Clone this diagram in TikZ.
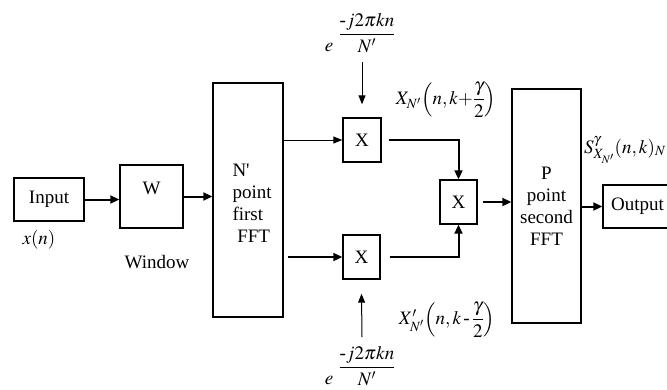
\documentclass[tikz,border=0pt]{standalone}
\usepackage{amsmath}
\usepackage{mathptmx}
\usepackage{fontspec}
\setmainfont{Liberation Serif}
\usetikzlibrary{arrows.meta}
\tikzset{
  blk/.style={draw, line width=1.4pt, inner sep=0pt},
  txt/.style={font=\fontsize{19}{22}\selectfont, inner sep=0pt},
  thk/.style={line width=2pt, -{Triangle[length=9pt,width=8pt]}},
  thn/.style={line width=1pt, -{Triangle[length=9pt,width=7pt]}},
}
\begin{document}
\begin{tikzpicture}[x=1pt,y=-1pt]
\useasboundingbox (0,0) rectangle (667,389);
\begin{scope}[every node/.append style={font=\fontsize{19}{22}\selectfont}]
% boxes
\node[blk, minimum width=70pt, minimum height=43pt] (in) at (49,199.5) {Input};
\node[blk, minimum width=63pt, minimum height=63pt,
      label={[yshift=8pt, inner sep=0pt]center:W}] (w) at (151.5,196.5) {};
\node[blk, minimum width=70pt, minimum height=234pt,
      label={[anchor=west, xshift=20pt, yshift=-3pt, align=left, inner sep=0pt]west:{N\textquotesingle\\point\\first\\\ FFT}}] (f1) at (248,200) {};
\node[blk, minimum width=38pt, minimum height=44pt] (x1) at (362,140) {X};
\node[blk, minimum width=37pt, minimum height=44pt] (x2) at (361.5,257) {X};
\node[blk, minimum width=37pt, minimum height=44pt] (x3) at (458.5,202) {X};
\node[blk, minimum width=69pt, minimum height=234pt, align=center] (p) at (546.5,206) {P\\point\\second\\FFT};
\node[blk, minimum width=69pt, minimum height=43pt] (out) at (637.5,206.5) {Output};

% texts
\node[txt] (xn) at (39,240) {$x(n)$};
\node[txt] (win) at (157,262) {Window};
\node[txt] (e1) at (329,47) {$e$};
\node[txt] (fr1) at (367,33) {$\dfrac{\mbox{-}j2\pi kn}{N'}$};
\node[txt] (e2) at (329,380) {$e$};
\node[txt] (fr2) at (367,366) {$\dfrac{\mbox{-}j2\pi kn}{N'}$};
\node[txt] (lt) at (446,100) {$X_{N'}\!\left(n,k{+}\dfrac{\gamma}{2}\right)$};
\node[txt] (lb) at (447,320) {$X'_{N'}\!\left(n,k\,\mbox{-}\,\dfrac{\gamma}{2}\right)$};
\node[txt, anchor=east] (ls) at (666,150) {$S^{\gamma}_{X_{N'}}(n,k)_N$};
\end{scope}

\coordinate (ta) at (362,62);
\coordinate (ba) at (362,337);

% connectors
\draw[thk] (in.east) -- (in.east -| w.west);
\draw[thk] (w.east) -- (w.east -| f1.west);
\draw[thn] (f1.east |- x1) -- (x1.west);
\draw[thk] ([xshift=4pt]f1.east |- x2) -- (x2.west);
\draw[thk] ([xshift=7pt]x1.east) -| (x3.north);
\draw[thk] ([xshift=9pt]x2.east) -| (x3.south);
\draw[thk] ([xshift=5pt]x3.east) -- (x3.east -| p.west);
\draw[thk] (p.east |- out) -- (out.west);
\draw[thn] (ta) -- ([yshift=13pt]x1.north);
\draw[thn] (ba) -- ([yshift=-14pt]x2.south);
\end{tikzpicture}
\end{document}
